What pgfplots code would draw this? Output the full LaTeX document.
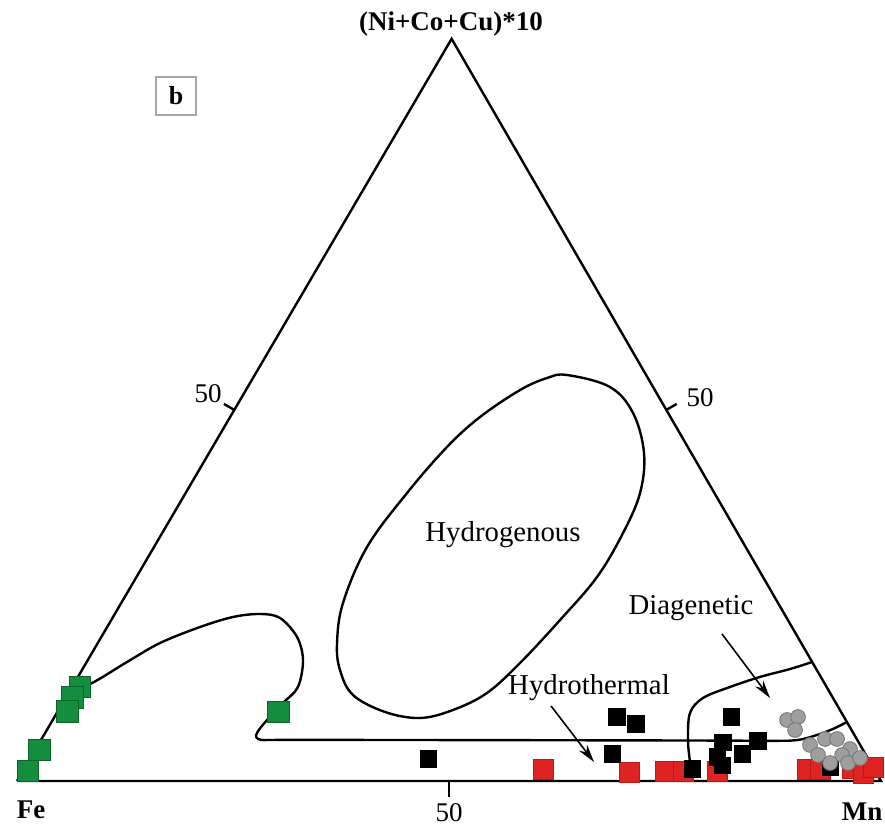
\documentclass[border=0pt]{standalone}
\usepackage{fontspec}
\setmainfont{Liberation Serif}
\usepackage{pgfplots}
\pgfplotsset{compat=1.18}
\usetikzlibrary{arrows.meta}
\definecolor{redf}{RGB}{222,36,34}
\definecolor{rede}{RGB}{185,25,25}
\definecolor{greenf}{RGB}{20,142,62}
\definecolor{greene}{RGB}{10,100,40}
\definecolor{grayf}{RGB}{158,158,158}
\definecolor{graye}{RGB}{118,118,118}
\begin{document}
\begin{tikzpicture}[every node/.style={inner sep=0pt}]
\begin{axis}[
  scale only axis, width=442.5pt, height=414.5pt,
  xmin=-1.968, xmax=100.46, ymin=-5.556, ymax=90.394,
  axis lines=none, ticks=none, clip=false,
  every axis plot/.append style={line width=1.2pt, black},
]
\path (rel axis cs:0,0) rectangle (rel axis cs:1,1);
% triangle
\addplot[mark=none, line join=miter] coordinates {(0,0) (100,0) (50.3,85.9) (0,0)};
% ticks at 50
\addplot[mark=none] coordinates {(50,0) (50,-1.85)};
\addplot[mark=none] coordinates {(25.15,42.95) (23.95,43.64)};
\addplot[mark=none] coordinates {(75.15,42.95) (76.35,43.64)};
% Hydrogenous field
\addplot[mark=none, smooth cycle, tension=0.6] coordinates {
 (63.66,46.99) (68.63,45.60) (71.30,42.59) (72.57,37.96) (72.11,33.33)
 (70.14,28.70) (67.13,23.61) (62.85,18.63) (58.22,13.66) (54.40,10.19)
 (50.46,8.22) (46.64,7.29) (42.59,7.99) (38.89,9.95) (37.38,12.85)
 (37.04,15.97) (37.73,20.60) (40.51,27.08) (45.14,33.33) (49.77,38.66)
 (53.59,42.13) (58.22,45.25) (61.34,46.64)};
% Hydrothermal boundary
\addplot[mark=none, smooth, tension=0.55] coordinates {
 (6.5,11.1) (8.45,11.23) (12.73,13.77) (16.55,15.97) (21.18,17.82) (25.0,18.98)
 (28.13,19.33) (30.44,18.87) (32.41,16.67) (33.10,14.00) (32.52,10.88)
 (30.79,9.03) (28.94,7.06) (27.85,5.7) (27.7,5.05) (28.3,4.75) (30,4.75)
 (40,4.75) (60,4.72) (80,4.68) (88,4.65) (90.4,4.75) (92.36,5.25)
 (94.44,6.02) (96.05,6.83)};
% Diagenetic boundary
\addplot[mark=none, smooth, tension=0.55] coordinates {
 (78.24,0) (77.89,2.20) (77.66,4.75) (77.89,7.87) (79.40,9.61)
 (82.52,10.88) (85.99,12.04) (89.47,12.96) (92.03,13.77)};
% arrows
\addplot[mark=none, line width=0.8pt, -{Stealth[length=9pt,width=5pt]}] coordinates {(81.60,17.01) (87.15,9.61)};
\addplot[mark=none, line width=0.8pt, -{Stealth[length=9pt,width=5pt]}] coordinates {(61.81,8.68) (66.78,2.20)};
% red squares
\addplot[only marks, mark=square*, mark size=5pt, mark options={fill=redf, draw=rede, line width=0.3pt}] coordinates {
 (60.88,1.39) (70.83,1.04) (75.00,1.16) (77.08,1.16) (81.02,1.16)
 (91.44,1.39) (92.94,1.39) (96.64,1.50) (97.92,0.93) (99.07,1.62)};
% black squares
\addplot[only marks, mark=square*, mark size=4.1pt, mark options={fill=black, draw=black, line width=0.3pt}] coordinates {
 (69.44,7.41) (71.64,6.60) (68.87,3.13) (78.13,1.39) (82.64,7.41)
 (81.71,4.51) (85.76,4.63) (83.91,3.13) (81.02,2.78) (81.60,1.85)
 (94.10,1.62) (47.57,2.55)};
% gray circles
\addplot[only marks, mark=*, mark size=3.7pt, mark options={fill=grayf, draw=graye, line width=0.4pt}] coordinates {
 (89.12,7.06) (90.39,7.41) (90.05,5.90) (91.78,4.17) (93.52,4.86)
 (94.91,4.86) (96.41,3.70) (92.71,3.01) (95.49,3.01) (94.10,2.08)
 (96.18,2.08) (97.57,2.66)};
% green squares
\addplot[only marks, mark=square*, mark size=5.4pt, mark options={fill=greenf, draw=greene, line width=0.3pt}] coordinates {
 (7.29,10.88) (6.37,9.72) (5.79,8.10) (2.55,3.59) (1.27,1.16) (30.21,7.99)};
% labels
\node[font=\fontsize{14.4}{16}\selectfont] at (axis cs:56.25,28.47) {Hydrogenous};
\node[font=\fontsize{14.4}{16}\selectfont] at (axis cs:66.2,10.76) {Hydrothermal};
\node[font=\fontsize{14.4}{16}\selectfont] at (axis cs:78.01,20.02) {Diagenetic};
\node[font=\fontsize{13.5}{15}\selectfont\bfseries] at (axis cs:50.23,87.6) {(Ni+Co+Cu)*10};
\node[font=\fontsize{13.5}{15}\selectfont\bfseries] at (axis cs:1.62,-3.36) {Fe};
\node[font=\fontsize{13.5}{15}\selectfont\bfseries] at (axis cs:97.8,-3.59) {Mn};
\node[font=\fontsize{13.5}{15}\selectfont] at (axis cs:50,-3.7) {50};
\node[font=\fontsize{13.5}{15}\selectfont] at (axis cs:22.11,44.79) {50};
\node[font=\fontsize{13.5}{15}\selectfont] at (axis cs:79.05,44.33) {50};
\node[draw=gray!70, line width=0.6pt, minimum width=20pt, minimum height=19pt, inner sep=0pt, font=\fontsize{13}{15}\selectfont\bfseries] at (axis cs:18.4,79.28) {b};
\end{axis}
\end{tikzpicture}
\end{document}
